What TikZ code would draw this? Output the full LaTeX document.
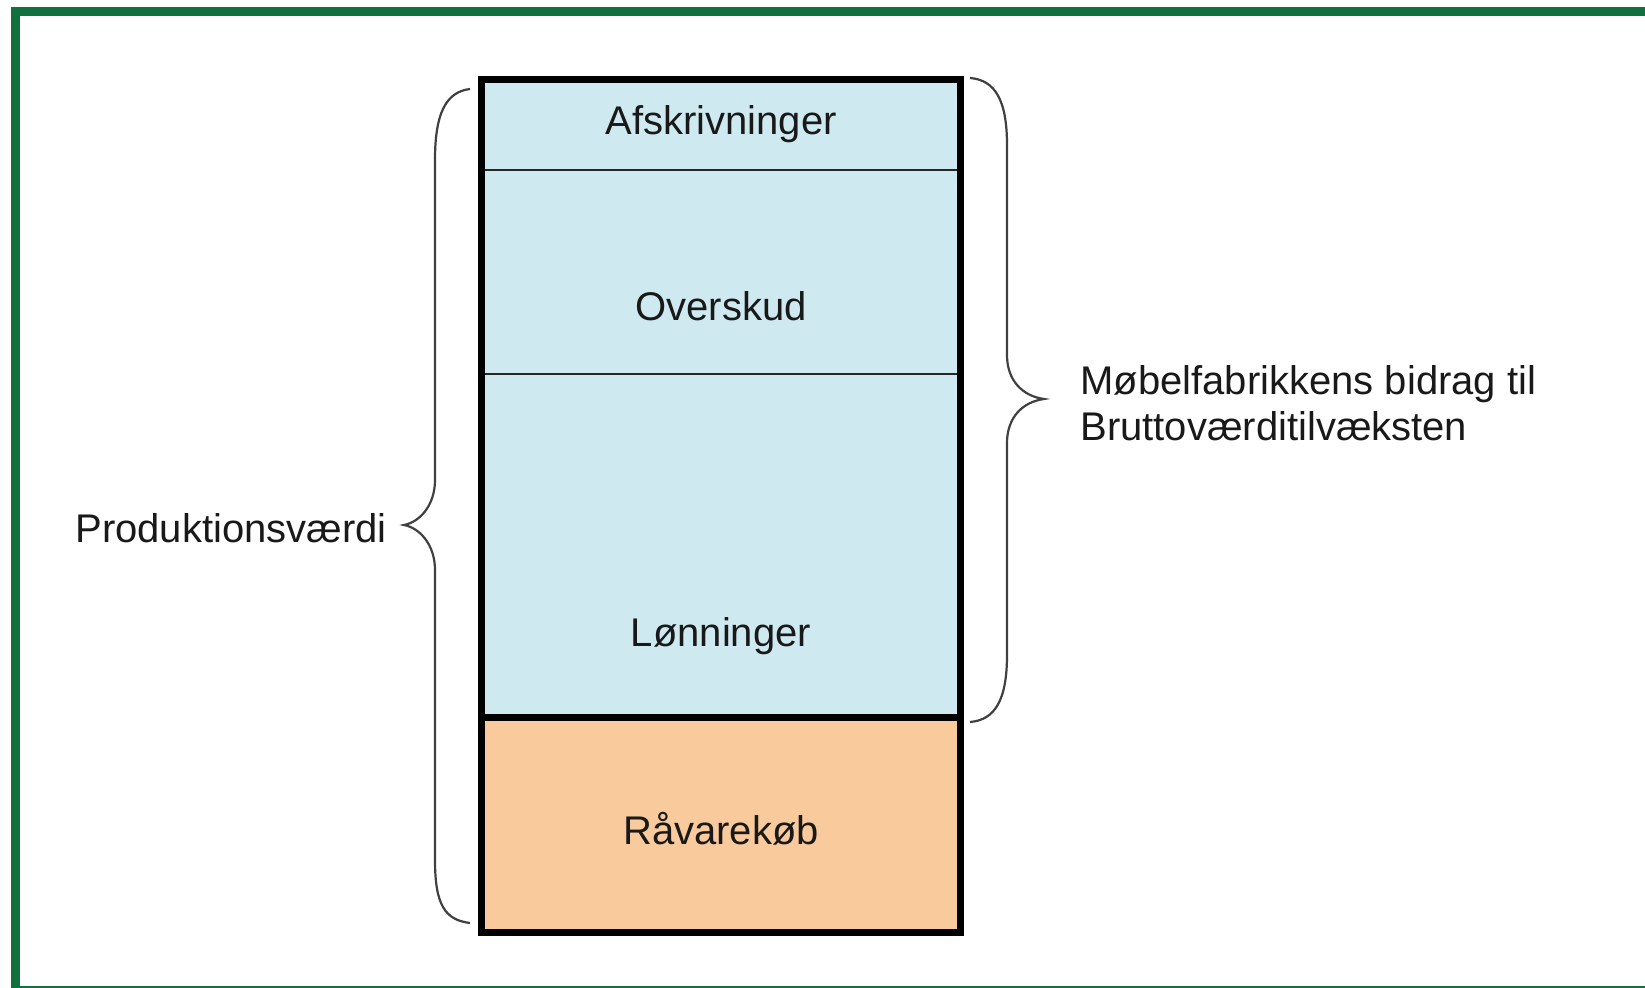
\documentclass[tikz,border=0pt]{standalone}
\usepackage{fontspec}
\setmainfont{Liberation Sans}
\definecolor{frameGreen}{RGB}{16,112,62}
\definecolor{boxBlue}{RGB}{206,234,240}
\definecolor{boxOrange}{RGB}{249,203,156}
\definecolor{braceGray}{RGB}{64,64,64}
\definecolor{txt}{RGB}{25,25,25}
\begin{document}
\begin{tikzpicture}[x=0.5pt,y=-0.5pt,
  lbl/.style={font=\fontsize{20}{23}\selectfont, text=txt, inner sep=0pt},
  bracestyle/.style={draw=braceGray, line width=1.1pt},
  thinsep/.style={draw=black!85, line width=1pt},
  thickline/.style={draw=black, line width=3.5pt}]
\useasboundingbox (0,0) rectangle (1645,988);
\fill[white] (0,0) rectangle (1645,988);
\begin{scope}
\clip (0,0) rectangle (1645,988);
\draw[frameGreen, line width=4.5pt] (15,12) rectangle (1665,990);
\end{scope}
% stacked column
\fill[boxBlue] (481,80) rectangle (960,718);
\fill[boxOrange] (481,718) rectangle (960,932);
\draw[thinsep] (481,170) -- (960,170);
\draw[thinsep] (481,374) -- (960,374);
\draw[thickline] (481,718) -- (960,718);
\draw[thickline] (481,80) rectangle (960,932);
% labels
\node[lbl] (afs) at (721,124) {Afskrivninger};
\node[lbl] (ovs) at (721,306) {Overskud};
\node[lbl] (lon) at (721,636) {Lønninger};
\node[lbl] (rav) at (721,829) {Råvarekøb};
\node[lbl] (prod) at (231,528) {Produktionsværdi};
\node[lbl, anchor=west, align=left] (bidrag) at (1080,403) {Møbelfabrikkens bidrag til\\Bruttoværditilvæksten};
% braces
\draw[bracestyle] (470,89) .. controls (445,92) and (435,115) .. (435,160) -- (435,480)
  .. controls (435,505) and (420,522) .. (404,525)
  .. controls (420,528) and (435,545) .. (435,570) -- (435,860)
  .. controls (435,905) and (445,920) .. (470,923);
\draw[bracestyle] (970,78) .. controls (995,80) and (1007,100) .. (1007,145) -- (1007,355)
  .. controls (1007,380) and (1022,396) .. (1044,399)
  .. controls (1022,402) and (1007,418) .. (1007,443) -- (1007,655)
  .. controls (1007,700) and (995,720) .. (970,722);
\end{tikzpicture}
\end{document}
